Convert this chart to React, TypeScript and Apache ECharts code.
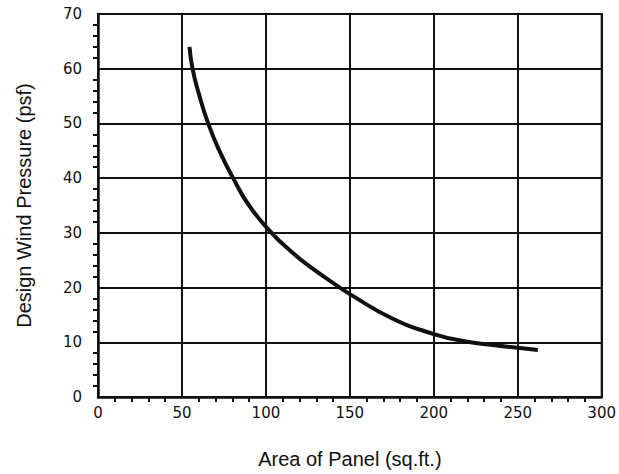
import React, { useEffect, useRef } from "react";
import * as echarts from "echarts";

const areaSqFt = [54.5, 56.3, 60, 65.6, 72.6, 80.5, 90, 103.4, 115, 125, 144, 150, 175, 200, 220, 235, 250, 262];
const pressurePsf = [64, 60, 55.5, 50, 44.8, 40, 35, 30, 26.6, 24.1, 20, 18.8, 14.4, 11.5, 10.1, 9.5, 9.0, 8.6];
const xTicks = [0, 50, 100, 150, 200, 250, 300];
const yTicks = [0, 10, 20, 30, 40, 50, 60, 70];
const xTitle = "Area of Panel (sq.ft.)";
const yTitle = "Design Wind Pressure (psf)";

export default function App() {
  const ref = useRef<HTMLDivElement>(null);
  useEffect(() => {
    if (!ref.current) return;
    const chart = echarts.init(ref.current, undefined, { renderer: "svg" });
    const tickFont = "'DejaVu Sans', sans-serif";
    const titleFont = "'Liberation Sans', Arial, sans-serif";
    chart.setOption({
      animation: false,
      backgroundColor: "#ffffff",
      grid: {
        left: 98,
        right: 17,
        top: 14,
        bottom: 77,
        show: true,
        borderColor: "#111",
        borderWidth: 2,
      },
      xAxis: {
        type: "value",
        min: xTicks[0],
        max: xTicks[xTicks.length - 1],
        interval: 50,
        name: xTitle,
        nameLocation: "middle",
        nameGap: 52,
        nameTextStyle: { fontFamily: titleFont, fontSize: 20, color: "#111" },
        axisLine: { show: true, onZero: false, lineStyle: { color: "#111", width: 2.5 } },
        axisTick: { show: false, inside: true },
        minorTick: { show: true, splitNumber: 5, length: -5, lineStyle: { color: "#111", width: 2 } },
        axisLabel: { fontFamily: tickFont, fontSize: 15, color: "#111", margin: 8 },
        splitLine: { show: true, lineStyle: { color: "#111", width: 2 } },
      },
      yAxis: {
        type: "value",
        min: yTicks[0],
        max: yTicks[yTicks.length - 1],
        interval: 10,
        name: yTitle,
        nameLocation: "middle",
        nameGap: 64,
        nameTextStyle: { fontFamily: titleFont, fontSize: 20, color: "#111" },
        axisLine: { show: true, onZero: false, lineStyle: { color: "#111", width: 2.5 } },
        axisTick: { show: false, inside: true },
        minorTick: { show: true, splitNumber: 5, length: -5, lineStyle: { color: "#111", width: 2 } },
        axisLabel: { fontFamily: tickFont, fontSize: 15, color: "#111", margin: 16 },
        splitLine: { show: true, lineStyle: { color: "#111", width: 2 } },
      },
      series: [
        {
          type: "line",
          data: areaSqFt.map((a, i) => [a, pressurePsf[i]]),
          smooth: 0.5,
          showSymbol: false,
          lineStyle: { color: "#111", width: 4 },
        },
      ],
    });
    return () => chart.dispose();
  }, []);
  return (
    <div
      ref={ref}
      style={{ position: "fixed", left: 0, top: 0, width: 619, height: 474, background: "#fff" }}
    />
  );
}
